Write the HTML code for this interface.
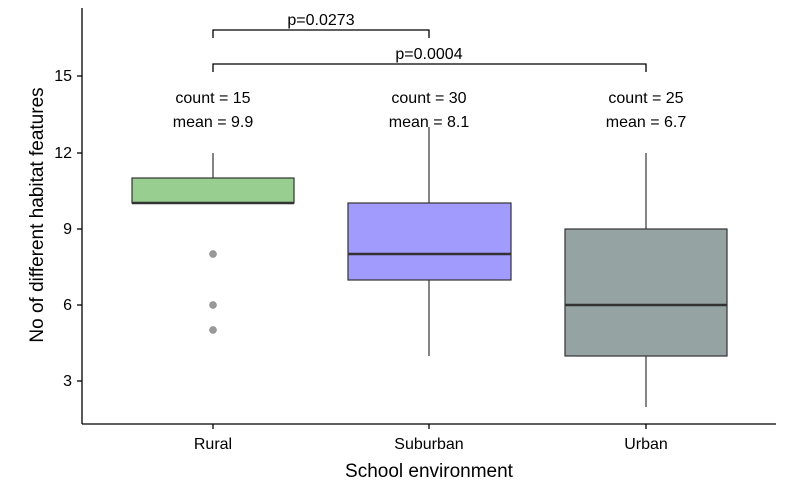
<!DOCTYPE html>
<html><head><style>body{margin:0;background:#fff}svg{display:block}text{font-family:"Liberation Sans",Arial,sans-serif;fill:#000}</style></head><body>
<svg width="790" height="502" viewBox="0 0 790 502">
<g stroke="#000" stroke-width="1.3" fill="none">
<line x1="82" y1="8" x2="82" y2="424"/><line x1="82" y1="424" x2="776" y2="424"/>
<line x1="77" y1="76" x2="82" y2="76"/><line x1="77" y1="153" x2="82" y2="153"/><line x1="77" y1="229" x2="82" y2="229"/><line x1="77" y1="305" x2="82" y2="305"/><line x1="77" y1="381" x2="82" y2="381"/>
<line x1="213" y1="424" x2="213" y2="429"/><line x1="429" y1="424" x2="429" y2="429"/><line x1="646" y1="424" x2="646" y2="429"/>
<polyline points="213,38 213,30 429,30 429,38"/>
<polyline points="213,72 213,64 646,64 646,72"/>
</g>
<g font-size="16" text-anchor="end"><text x="72" y="81">15</text><text x="72" y="158">12</text><text x="72" y="234">9</text><text x="72" y="310">6</text><text x="72" y="386">3</text></g>
<g font-size="16" text-anchor="middle"><text x="213" y="449">Rural</text><text x="429" y="449">Suburban</text><text x="646" y="449">Urban</text>
<text x="321" y="25">p=0.0273</text><text x="429" y="59">p=0.0004</text>
<text x="213" y="103">count = 15</text><text x="213" y="127">mean = 9.9</text>
<text x="429" y="103">count = 30</text><text x="429" y="127">mean = 8.1</text>
<text x="646" y="103">count = 25</text><text x="646" y="127">mean = 6.7</text></g>
<text x="429" y="477" font-size="19" text-anchor="middle">School environment</text>
<text transform="translate(43,215) rotate(-90)" font-size="19" text-anchor="middle">No of different habitat features</text>
<g stroke="#333" stroke-width="1.2">
<line x1="213" y1="153" x2="213" y2="178"/>
<rect x="132" y="178" width="162" height="25" fill="#98CE8F"/>
<line x1="132" y1="203" x2="294" y2="203" stroke-width="2.6"/>
<line x1="429" y1="127" x2="429" y2="203"/><line x1="429" y1="280" x2="429" y2="356"/>
<rect x="348" y="203" width="163" height="77" fill="#A29BFE"/>
<line x1="348" y1="254" x2="511" y2="254" stroke-width="2.6"/>
<line x1="646" y1="153" x2="646" y2="229"/><line x1="646" y1="356" x2="646" y2="407"/>
<rect x="565" y="229" width="162" height="127" fill="#95A3A3"/>
<line x1="565" y1="305" x2="727" y2="305" stroke-width="2.6"/>
</g>
<g fill="#999" stroke="#777" stroke-width="0.5"><circle cx="213" cy="254" r="3.5"/><circle cx="213" cy="305" r="3.5"/><circle cx="213" cy="330" r="3.5"/></g>
</svg>
</body></html>
